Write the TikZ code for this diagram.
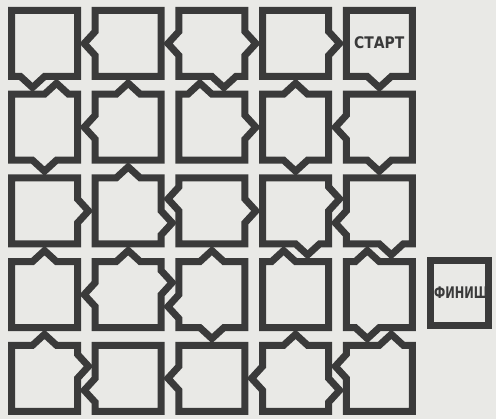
\documentclass[tikz,border=0pt]{standalone}
\usepackage{fontspec}
\setmainfont{DejaVu Sans}
\usepackage{graphicx}
\definecolor{paper}{RGB}{233,233,230}
\definecolor{ink}{RGB}{58,58,58}
\tikzset{tileline/.style={draw=ink,line width=7pt,line join=miter},
 tiletext/.style={text=ink,inner sep=0pt,font=\fontsize{16}{16}\selectfont\bfseries}}
% n = side without a point, otherwise the offset of the point
\newcommand\tileside[3]{\ifx n#3\def#1{0}\def#2{0}\else\def#1{#3}\def#2{11}\fi}
\newcommand\tile[6]{%
 \pgfmathsetmacro\tx{44.5+83.7*(#1-1)}
 \pgfmathsetmacro\ty{43.5+83.7*(#2-1)}
 \tileside\tileTo\tileTd{#3}\tileside\tileRo\tileRd{#4}%
 \tileside\tileBo\tileBd{#5}\tileside\tileLo\tileLd{#6}%
 \draw[tileline] (\tx-33,\ty-33)
  -- (\tx+\tileTo-12,\ty-33) -- (\tx+\tileTo,\ty-33-\tileTd) -- (\tx+\tileTo+12,\ty-33)
  -- (\tx+33,\ty-33)
  -- (\tx+33,\ty+\tileRo-12) -- (\tx+33+\tileRd,\ty+\tileRo) -- (\tx+33,\ty+\tileRo+12)
  -- (\tx+33,\ty+33)
  -- (\tx+\tileBo+12,\ty+33) -- (\tx+\tileBo,\ty+33+\tileBd) -- (\tx+\tileBo-12,\ty+33)
  -- (\tx-33,\ty+33)
  -- (\tx-33,\ty+\tileLo+12) -- (\tx-33-\tileLd,\ty+\tileLo) -- (\tx-33,\ty+\tileLo-12)
  -- cycle;}
\begin{document}
\begin{tikzpicture}[x=1pt,y=-1pt]
 \fill[paper] (0,0) rectangle (496,419);
 \useasboundingbox (0,0) rectangle (496,419);
 % column, row, top, right, bottom, left
 \tile{1}{1}{n}{n}{-12}{n}
 \tile{2}{1}{n}{n}{n}{0}
 \tile{3}{1}{n}{0}{12}{0}
 \tile{4}{1}{n}{0}{n}{n}
 \tile{5}{1}{n}{n}{0}{n}
 \tile{1}{2}{12}{n}{0}{n}
 \tile{2}{2}{0}{n}{n}{0}
 \tile{3}{2}{-12}{0}{n}{n}
 \tile{4}{2}{0}{n}{0}{n}
 \tile{5}{2}{n}{n}{0}{0}
 \tile{1}{3}{n}{0}{n}{n}
 \tile{2}{3}{0}{12}{n}{n}
 \tile{3}{3}{n}{0}{n}{-12}
 \tile{4}{3}{n}{-12}{12}{n}
 \tile{5}{3}{n}{n}{12}{12}
 \tile{1}{4}{0}{n}{n}{n}
 \tile{2}{4}{0}{-12}{n}{0}
 \tile{3}{4}{0}{n}{0}{12}
 \tile{4}{4}{-12}{n}{n}{n}
 \tile{5}{4}{-12}{n}{-12}{n}
 \tile{1}{5}{0}{-12}{n}{n}
 \tile{2}{5}{n}{n}{n}{12}
 \tile{3}{5}{n}{n}{n}{0}
 \tile{4}{5}{0}{12}{n}{0}
 \tile{5}{5}{12}{n}{n}{-12}
 \node[tiletext] (start) at (379.3,43) {\scalebox{0.87}[1]{СТАРТ}};
 \node[tileline,minimum width=58pt,minimum height=65pt] (finishbox) at (459.5,293) {};
 \node[tiletext] (finish) at (461,293) {\scalebox{0.71}[1]{ФИНИШ}};
\end{tikzpicture}
\end{document}
